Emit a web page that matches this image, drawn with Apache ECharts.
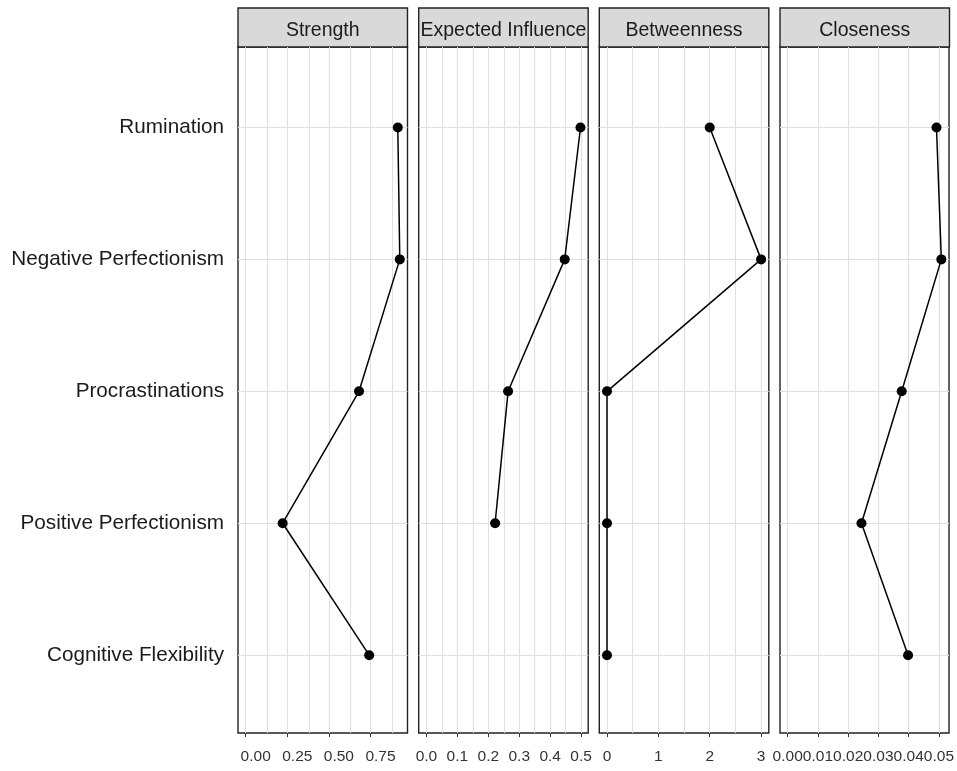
<!DOCTYPE html>
<html>
<head>
<meta charset="utf-8">
<script src="https://cdn.jsdelivr.net/npm/echarts@6/dist/echarts.min.js"></script>
<style>
html, body { margin: 0; padding: 0; background: #fff; }
#chart { width: 957px; height: 771px; }
</style>
</head>
<body>
<div id="chart"></div>
<script>
// centrality indices per node, top to bottom
const categories = ['Rumination', 'Negative Perfectionism', 'Procrastinations', 'Positive Perfectionism', 'Cognitive Flexibility'];
const panelTitles = ['Strength', 'Expected Influence', 'Betweenness', 'Closeness'];

const strength = [0.914, 0.926, 0.681, 0.222, 0.742];
const expectedInfluence = [0.498, 0.447, 0.264, 0.222, null];
const betweenness = [2, 3, 0, 0, 0];
const closeness = [0.0492, 0.0508, 0.0377, 0.0244, 0.0398];

const strengthTicks = [0, 0.25, 0.5, 0.75];
const influenceTicks = [0, 0.1, 0.2, 0.3, 0.4, 0.5];
const betweennessTicks = [0, 1, 2, 3];
const closenessTicks = [0, 0.01, 0.02, 0.03, 0.04, 0.05];
const tickDecimals = [2, 1, 0, 2];

const FONT = "'Liberation Sans', Arial, sans-serif";
const panelLefts = [238, 418.7, 599.3, 780];
const panelWidth = 169.5;
const plotTop = 47, plotBottom = 733;
const stripTop = 8;

const panelValues = [strength, expectedInfluence, betweenness, closeness];
const panelTicks = [strengthTicks, influenceTicks, betweennessTicks, closenessTicks];

let chart = echarts.init(document.getElementById('chart'));

let grids = [], xAxes = [], yAxes = [], series = [], graphics = [];

panelValues.forEach((vals, i) => {
    let present = vals.filter(v => v !== null);
    let lo = Math.min(0, ...present);
    let hi = Math.max(...present);
    let pad = (hi - lo) * 0.05;
    let ticks = panelTicks[i];
    let step = (ticks[1] - ticks[0]) / 2;

    /* vertical grid lines at major + minor breaks */
    let gridValues = [];
    for (let k = Math.ceil((lo - pad) / step); k <= Math.floor((hi + pad) / step); k++) {
        gridValues.push(+(k * step).toFixed(6));
    }

    grids.push({
        left: panelLefts[i],
        top: plotTop,
        width: panelWidth,
        height: plotBottom - plotTop,
        show: true,
        borderColor: '#222',
        borderWidth: 1.4,
        backgroundColor: '#fff'
    });

    xAxes.push({
        type: 'value',
        gridIndex: i,
        min: lo - pad,
        max: hi + pad,
        axisLine: { show: false },
        splitLine: { show: false },
        axisTick: { show: true, length: 4, lineStyle: { color: '#333' }, customValues: ticks },
        axisLabel: {
            customValues: ticks,
            color: '#333',
            fontSize: 15.5,
            fontFamily: FONT,
            margin: 16,
            padding: i === 0 ? [0, 0, 0, 20] : 0,
            formatter: v => v.toFixed(tickDecimals[i])
        }
    });

    yAxes.push({
        type: 'value',
        gridIndex: i,
        inverse: true,
        min: 0.39,
        max: 5.59,
        axisLine: { show: false },
        splitLine: { show: false },
        axisTick: { show: i === 0, length: 4, lineStyle: { color: '#333' }, customValues: [1, 2, 3, 4, 5] },
        axisLabel: {
            show: i === 0,
            customValues: [1, 2, 3, 4, 5],
            color: '#1a1a1a',
            fontSize: 20.7,
            fontFamily: FONT,
            margin: 14,
            formatter: v => categories[Math.round(v) - 1] || ''
        }
    });

    series.push({
        type: 'line',
        xAxisIndex: i,
        yAxisIndex: i,
        z: 3,
        data: vals.map((v, j) => v === null ? [null, j + 1] : [v, j + 1]),
        symbol: 'circle',
        symbolSize: 10,
        itemStyle: { color: '#000' },
        lineStyle: { color: '#000', width: 1.5 },
        connectNulls: false,
        animation: false,
        silent: true,
        markLine: {
            z: 1,
            silent: true,
            symbol: 'none',
            animation: false,
            label: { show: false },
            lineStyle: { color: '#e0e0e0', type: 'solid', width: 1 },
            data: gridValues.map(v => ({ xAxis: v }))
                .concat([1, 2, 3, 4, 5].map(v => ({ yAxis: v })))
        }
    });

    graphics.push({
        type: 'rect',
        shape: { x: panelLefts[i], y: stripTop, width: panelWidth, height: plotTop - stripTop },
        style: { fill: '#d9d9d9', stroke: '#222', lineWidth: 1.4 }
    });
    graphics.push({
        type: 'text',
        x: panelLefts[i] + panelWidth / 2,
        y: (stripTop + plotTop) / 2 + 3,
        style: {
            text: panelTitles[i],
            fill: '#1a1a1a',
            font: '19.5px ' + FONT,
            align: 'center',
            verticalAlign: 'middle',
            textAlign: 'center',
            textVerticalAlign: 'middle'
        }
    });
});

chart.setOption({
    backgroundColor: '#fff',
    animation: false,
    grid: grids,
    xAxis: xAxes,
    yAxis: yAxes,
    series: series,
    graphic: graphics
});
</script>
</body>
</html>
